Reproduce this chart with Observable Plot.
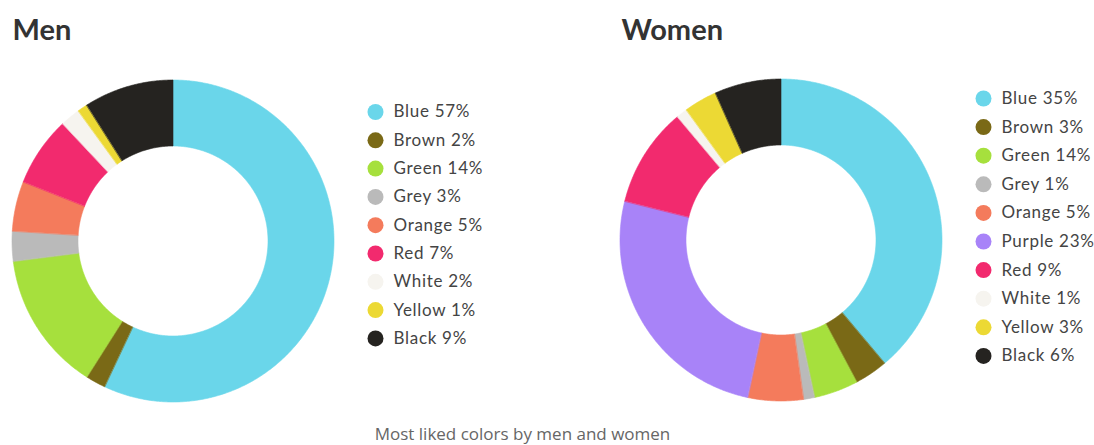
<!DOCTYPE html>
<html>
<head>
<meta charset="utf-8">
<script src="https://cdn.jsdelivr.net/npm/d3@7"></script>
<script src="https://cdn.jsdelivr.net/npm/@observablehq/plot@0.6"></script>
<style>
  html, body { margin: 0; padding: 0; background: #fff; }
  #chart svg { display: block; }
  #chart g[font-family="Lato"][font-size="17"] { letter-spacing: 0.7px; }
</style>
</head>
<body>
<div id="chart"></div>
<script>
// ---- data ----
const menNames = ["Blue", "Brown", "Green", "Grey", "Orange", "Red", "White", "Yellow", "Black"];
const menValues = [57, 2, 14, 3, 5, 7, 2, 1, 9];

const womenNames = ["Blue", "Brown", "Green", "Grey", "Orange", "Purple", "Red", "White", "Yellow", "Black"];
const womenLegendValues = [35, 3, 14, 1, 5, 23, 9, 1, 3, 6];
// slice sizes as drawn in the picture (green slice is visibly ~4)
const womenSliceValues = [35, 3, 4, 1, 5, 23, 9, 1, 3, 6];

const titles = ["Men", "Women"];
const caption = "Most liked colors by men and women";

const palette = {
  Blue: "#6ad6ea", Brown: "#7a6916", Green: "#a6e03d", Grey: "#bababa",
  Orange: "#f47b5c", Purple: "#a883f8", Red: "#f22a6e", White: "#f6f4ef",
  Yellow: "#ecd934", Black: "#252320"
};

// ---- layout ----
const W = 1094, H = 445;
const donuts = [
  {key: "men", names: menNames, values: menValues, cx: 173, cy: 241},
  {key: "women", names: womenNames, values: womenSliceValues, cx: 781, cy: 240}
];
const R = 161, r = 95;

function arcRows(d) {
  const arcs = d3.pie().sort(null).value(v => v)(d.values);
  const rows = [];
  arcs.forEach((a, i) => {
    const n = Math.max(2, Math.ceil((a.endAngle - a.startAngle) / 0.01));
    for (let k = 0; k <= n; k++) {
      const t = a.startAngle + (a.endAngle - a.startAngle) * k / n;
      rows.push({
        z: d.key + i, color: palette[d.names[i]],
        x1: d.cx + R * Math.sin(t), y1: d.cy - R * Math.cos(t),
        x2: d.cx + r * Math.sin(t), y2: d.cy - r * Math.cos(t)
      });
    }
  });
  return rows;
}
const slices = donuts.flatMap(arcRows);

const legends = [
  ...menNames.map((n, i) => ({name: n, label: `${n} ${menValues[i]}%`, x: 375, y: 111.5 + i * 28.3})),
  ...womenNames.map((n, i) => ({name: n, label: `${n} ${womenLegendValues[i]}%`, x: 983, y: 98 + i * 28.6}))
];

const titleRows = [
  {text: titles[0], x: 12, y: 39},
  {text: titles[1], x: 621, y: 39}
];

const plot = Plot.plot({
  width: W, height: H,
  marginTop: 0, marginRight: 0, marginBottom: 0, marginLeft: 0,
  x: {domain: [0, W], range: [0, W], axis: null},
  y: {domain: [0, H], range: [0, H], axis: null},
  style: {background: "#fff"},
  marks: [
    Plot.area(slices, {x1: "x1", y1: "y1", x2: "x2", y2: "y2", z: "z", fill: "color", stroke: "color", strokeWidth: 0.6}),
    Plot.dot(legends, {x: "x", y: "y", r: 8, fill: d => palette[d.name], stroke: null}),
    Plot.text(legends, {x: d => d.x + 18, y: "y", text: "label", textAnchor: "start", lineAnchor: "middle",
      fontSize: 17, fontFamily: "Lato", fill: "#444"}),
    Plot.text(titleRows, {x: "x", y: "y", text: "text", textAnchor: "start", lineAnchor: "bottom",
      fontSize: 29, fontWeight: "bold", fontFamily: "Lato", fill: "#333"}),
    Plot.text([caption], {x: 522, y: 439, text: d => d, lineAnchor: "bottom",
      fontSize: 17, fontFamily: "Open Sans", fill: "#666"})
  ]
});
document.getElementById("chart").appendChild(plot);
</script>
</body>
</html>
